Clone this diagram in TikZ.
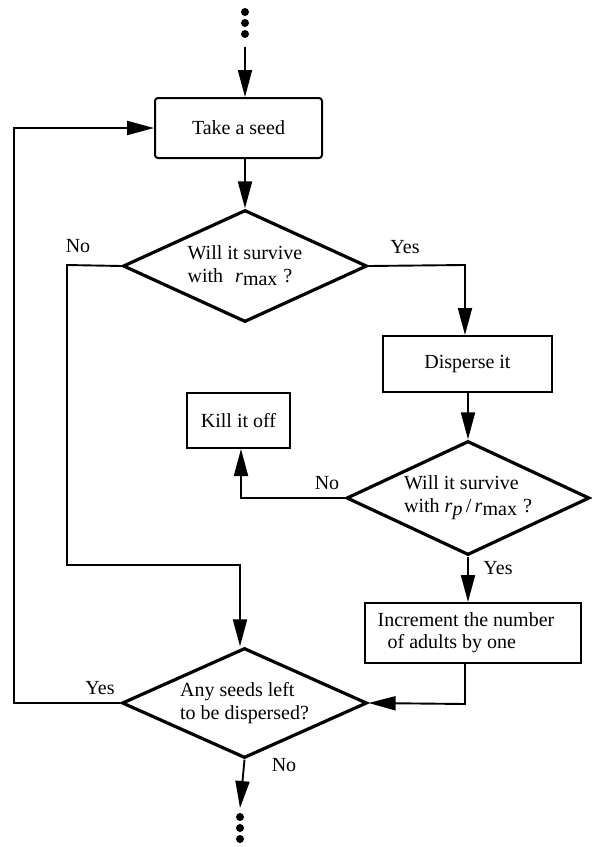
\documentclass[tikz,border=0pt]{standalone}
\usepackage{fontspec}
\setmainfont{Liberation Serif}
\usetikzlibrary{shapes.geometric,arrows.meta}
\newcommand{\rmaxsym}{\textit{r}\raisebox{-0.35ex}{max}}
\begin{document}
\begin{tikzpicture}[x=1pt,y=-1pt,
  every node/.style={font=\fontsize{20}{23}\selectfont},
  conn/.style={line width=1.9pt},
  arr/.style={conn,-{Triangle[length=27pt,width=14pt]}},
  procbox/.style={draw,line width=2pt,inner sep=0pt,align=center},
  decision/.style={draw,diamond,line width=3.2pt,inner sep=0pt,align=left,shape aspect=2.18},
  lbl/.style={inner sep=0pt},
  dot/.style={fill=black,circle,inner sep=0pt,minimum size=8pt}]
\useasboundingbox (0,0) rectangle (592,847);
% top dots
\node[dot] (t1) at (245,12) {};
\node[dot] (t2) at (245,23) {};
\node[dot] (t3) at (245,34) {};
\coordinate (tin) at (245,47);
% nodes
\node[procbox,rounded corners=3pt,minimum width=167pt,minimum height=60pt] (seed) at (238.5,128) {Take a seed};
\node[decision,minimum width=244pt,minimum height=112pt] (d1) at (245,266) {Will it survive\\ with\hspace{0.6em}\rmaxsym\hspace{0.3em}?};
\node[procbox,minimum width=169pt,minimum height=56pt] (disp) at (467.5,364) {Disperse it};
\node[procbox,minimum width=103pt,minimum height=55pt] (kill) at (238.5,420.5) {Kill it off};
\node[decision,minimum width=243pt,minimum height=114pt] (d2) at (468,498) {Will it survive\\ with \textit{r}\raisebox{-0.35ex}{\textit{p}}\,/\,\rmaxsym\hspace{0.3em}?};
\node[procbox,minimum width=216pt,minimum height=60pt] (inc) at (473,633) {};
\node[inner sep=0pt,align=left] (inctext) at (466,633) {Increment the number\\[-1pt] \hspace*{10pt}of adults by one};
\node[decision,minimum width=245pt,minimum height=110pt] (d3) at (244.5,703) {Any seeds left\\ to be dispersed?};
% bottom dots
\coordinate (bout) at (240,808);
\node[dot] (b1) at (240,817) {};
\node[dot] (b2) at (240,828) {};
\node[dot] (b3) at (240,839) {};
% helper coordinates
\coordinate (yes1) at (465,265);
\coordinate (no1a) at (67,265);
\coordinate (no1b) at (67,565);
\coordinate (no1c) at (240,565);
\coordinate (no2) at (241,498);
\coordinate (incout) at (465,704);
\coordinate (yes3a) at (14,703);
\coordinate (yes3b) at (14,128);
% connectors
\draw[arr] (tin) -- (tin |- seed.north);
\draw[arr] (d1.north |- seed.south) -- (d1.north);
\draw[arr] (d1.east) -- (yes1) -- (yes1 |- disp.north);
\draw[arr] (d1.west) -- (no1a) -- (no1b) -- (no1c) -- (no1c |- d3.north);
\draw[arr] (d2.north |- disp.south) -- (d2.north);
\draw[arr] (d2.west) -- (no2) -- (no2 |- kill.south);
\draw[arr] (d2.south) -- (d2.south |- inc.north);
\draw[arr] (incout |- inc.south) -- (incout) -- (d3.east);
\draw[arr] (d3.west) -- (yes3a) -- (yes3b) -- (seed.west);
\draw[arr] (d3.south) -- (bout);
% labels
\node[lbl] (l1) at (78,246) {No};
\node[lbl] (l2) at (405,247) {Yes};
\node[lbl] (l3) at (327,483) {No};
\node[lbl] (l4) at (498,568) {Yes};
\node[lbl] (l5) at (100,688) {Yes};
\node[lbl] (l6) at (284,765) {No};
\end{tikzpicture}
\end{document}
